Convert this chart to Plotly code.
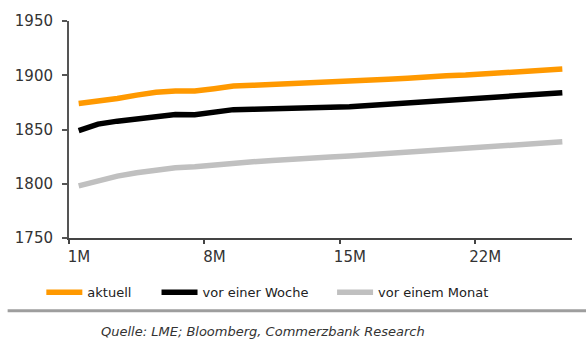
import plotly.graph_objects as go

# Forward curve: months ahead 1M..26M
months = list(range(1, 27))
month_labels = [f"{m}M" for m in months]

# Prices along the curve for three snapshot dates
aktuell = [1874.0, 1876.1, 1878.5, 1881.7, 1884.4, 1885.5, 1885.5, 1887.6, 1890.1, 1890.7,
           1891.4, 1892.3, 1893.0, 1893.4, 1893.9, 1894.8, 1896.2, 1897.3, 1898.9, 1899.5,
           1900.2, 1901.4, 1902.9, 1904.3, 1905.5, 1905.7]
vor_woche = [1849.0, 1855.0, 1857.7, 1860.0, 1862.2, 1863.8, 1863.6, 1865.8, 1868.3, 1868.6,
             1868.8, 1869.6, 1870.4, 1870.6, 1871.0, 1872.2, 1874.0, 1875.3, 1876.7, 1877.6,
             1878.2, 1879.4, 1880.5, 1881.6, 1882.9, 1883.9]
vor_monat = [1798.0, 1803.1, 1807.0, 1810.2, 1812.4, 1814.7, 1815.6, 1817.4, 1819.2, 1820.3,
             1821.5, 1822.9, 1824.0, 1824.7, 1825.6, 1826.7, 1828.0, 1829.2, 1830.5, 1831.9,
             1833.1, 1834.2, 1835.3, 1836.3, 1837.5, 1838.7]

series_names = ["aktuell", "vor einer Woche", "vor einem Monat"]
series_colors = ["#FF9900", "#000000", "#C0C0C0"]

# Labelled months on the x axis
tick_months = [1, 8, 15, 22]
tick_labels = [month_labels[m - 1] for m in tick_months]

y_ticks = [1750, 1800, 1850, 1900, 1950]

source_text = "Quelle: LME; Bloomberg, Commerzbank Research"

FONT = "DejaVu Sans"

fig = go.Figure()
legend_ids = ["legend", "legend2", "legend3"]
for values, name, color, lg in zip([aktuell, vor_woche, vor_monat], series_names,
                                   series_colors, legend_ids):
    fig.add_trace(go.Scatter(
        x=months, y=values, name=name, mode="lines",
        line=dict(color=color, width=5.5),
        legend=lg, hoverinfo="skip",
    ))

legend_common = dict(
    orientation="h", yanchor="middle", xanchor="left", y=-0.25,
    font=dict(family=FONT, size=13, color="#222222"),
    itemwidth=36, bgcolor="rgba(0,0,0,0)", borderwidth=0,
    tracegroupgap=0,
)

fig.update_layout(
    width=586, height=342,
    margin=dict(l=69, r=14, t=17, b=104),
    paper_bgcolor="white", plot_bgcolor="white",
    showlegend=True,
    legend=dict(x=-0.055, **legend_common),
    legend2=dict(x=0.174, **legend_common),
    legend3=dict(x=0.523, **legend_common),
    xaxis=dict(
        range=[0.5, 26.5],
        tickmode="array",
        # ticks sit on the month boundaries, labels centred on the month
        tickvals=[m - 0.5 for m in tick_months],
        ticktext=tick_labels,
        ticklabelshift=10,
        ticks="outside", ticklen=4, tickwidth=1.5, tickcolor="#444444",
        showline=True, linecolor="#444444", linewidth=2,
        showgrid=False, zeroline=False,
        tickfont=dict(family=FONT, size=15, color="#333333"),
    ),
    yaxis=dict(
        range=[1750, 1950],
        tickmode="array", tickvals=y_ticks,
        ticks="outside", ticklen=5, tickwidth=1.5, tickcolor="#555555",
        ticklabelstandoff=6,
        showline=True, linecolor="#555555", linewidth=2,
        showgrid=False, zeroline=False,
        tickfont=dict(family=FONT, size=15, color="#333333"),
    ),
    shapes=[dict(
        type="line", xref="paper", yref="paper",
        x0=-0.122, x1=1.03, y0=-0.335, y1=-0.335,
        line=dict(color="#9E9E9E", width=3),
    )],
    annotations=[dict(
        text=f"<i>{source_text}</i>", xref="paper", yref="paper",
        x=0.386, y=-0.43, xanchor="center", yanchor="middle",
        showarrow=False,
        font=dict(family=FONT, size=13, color="#333333"),
    )],
)

fig.write_html("out.html")
